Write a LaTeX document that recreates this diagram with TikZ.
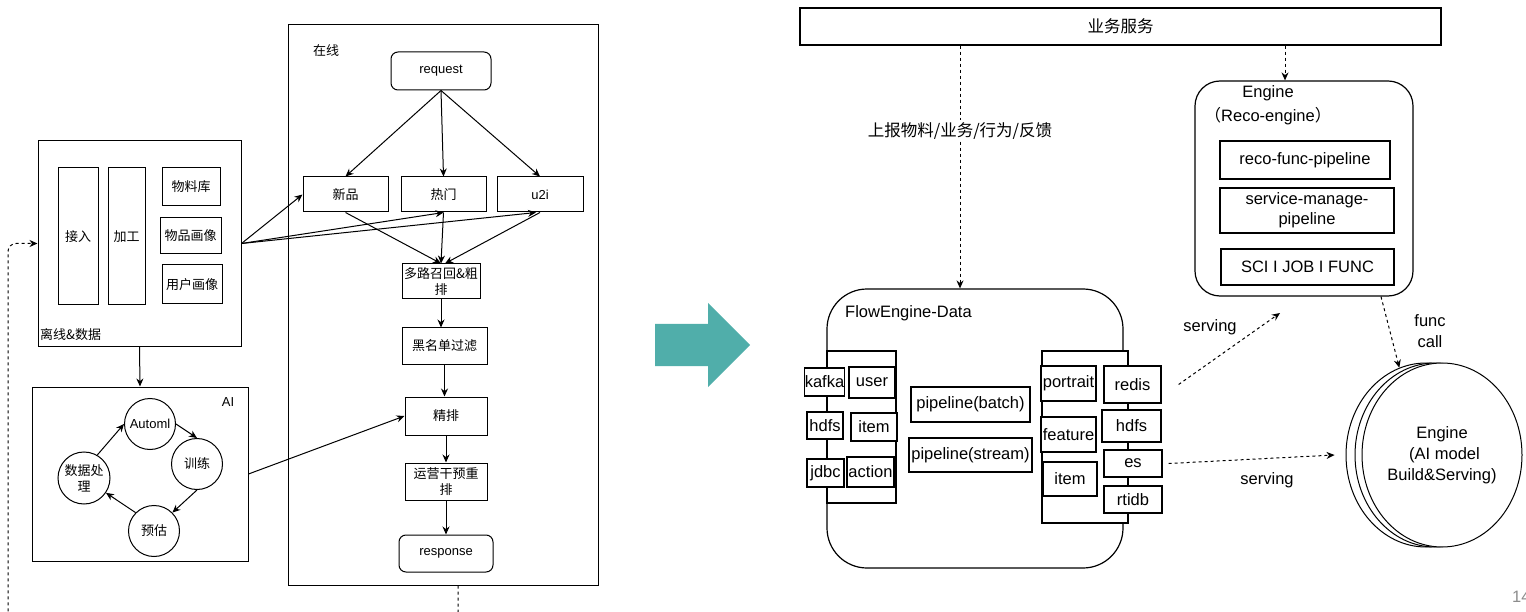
\documentclass[tikz,border=0pt]{standalone}
\usepackage{fontspec}
\setmainfont{Liberation Sans}
\newfontfamily\cjk{Noto Sans CJK SC}
\usetikzlibrary{arrows.meta,shapes.geometric,calc}
\definecolor{teal1}{RGB}{80,174,170}
\begin{document}
\begin{tikzpicture}[x=1pt,y=-1pt,
  base/.style={draw, line width=1pt, fill=white, inner sep=0pt, align=center},
  rbase/.style={base, line width=1.2pt},
  sz/.style 2 args={minimum width=#1pt, minimum height=#2pt},
  fs/.style={font=\fontsize{13}{15}\selectfont},
  fsc/.style={font=\cjk\fontsize{13}{16}\selectfont},
  fl/.style={font=\fontsize{16.5}{21}\selectfont},
  flc/.style={font=\cjk\fontsize{16.5}{21}\selectfont},
  arr/.style={line width=1pt, -{Stealth[length=8pt,width=7pt]}},
  darr/.style={arr, dash pattern=on 3pt off 3pt},
  dline/.style={line width=1pt, dash pattern=on 3pt off 3pt},
  rnd/.style={rounded corners=#1pt}
]
\useasboundingbox (0,0) rectangle (1526,612);

% ===== offline & data =====
\node[base, sz={203}{205}] (off) at (139.5,243.5) {};
\node[fsc, anchor=west, inner sep=0pt] (offl) at (40,335) {离线\&数据};
\node[base, fsc, sz={40}{137}] (jr) at (78,236.5) {接入};
\node[base, fsc, sz={37}{137}] (jg) at (126.5,236.5) {加工};
\node[base, fsc, sz={58}{38}] (wlk) at (191,187) {物料库};
\node[base, fsc, sz={61}{36}] (wphx) at (190.5,236) {物品画像};
\node[base, fsc, sz={60}{39}] (yhhx) at (192,284.5) {用户画像};

% ===== AI =====
\node[base, sz={216}{174}] (ai) at (140,474) {};
\node[fs] (ail) at (228,402) {AI};
\node[base, circle, fs, minimum size=51pt] (automl) at (150,424) {Automl};
\node[base, circle, fsc, minimum size=51pt] (train) at (197,464) {训练};
\node[base, circle, fsc, minimum size=52pt] (data) at (84,478) {数据处\\理};
\node[base, circle, fsc, minimum size=51pt] (pred) at (154,531) {预估};
\draw[arr] (data.60) -- (automl.west);
\draw[arr] (automl.east) -- (train.north);
\draw[arr] (train.south) -- (pred.45);
\draw[arr] (pred.135) -- (data.-34);
\draw[arr] (off.south) -- (ai.north);

% ===== online =====
\node[base, sz={310}{560}] (zx) at (443,305) {};
\node[fsc] (zxl) at (326,51) {在线};
\node[base, fs, rnd=7, sz={100}{38}] (rq) at (441,71) {request};
\node[base, fsc, sz={85}{35}] (xp) at (345.5,194.5) {新品};
\node[base, fsc, sz={85}{35}] (rm) at (443.5,194.5) {热门};
\node[base, fs, sz={86}{35}] (u2i) at (540,194.5) {u2i};
\node[base, fsc, sz={78}{35}] (dl) at (441,281.5) {多路召回\&粗\\排};
\node[base, fsc, sz={85}{36}] (hm) at (444.5,346) {黑名单过滤};
\node[base, fsc, sz={82}{38}] (jp) at (446,416) {精排};
\node[base, fsc, sz={82}{37}] (yy) at (446,481.5) {运营干预重\\排};
\node[base, fs, rnd=7, sz={94}{37}] (resp) at (446,553.5) {response};

\draw[arr] (rq.south) -- (xp.north);
\draw[arr] (rq.south) -- (rm.north);
\draw[arr] (rq.south) -- (u2i.north);
\draw[arr] (xp.south) -- (dl.north);
\draw[arr] (rm.south) -- (dl.north);
\draw[arr] (u2i.south) -- ([xshift=4pt]dl.north);
\draw[arr] (off.east) -- (xp.west);
\draw[arr] (off.east) -- (rm.south);
\draw[arr] (off.east) -- ([xshift=-4pt]u2i.south);
\draw[arr] (dl.south) -- (dl.south |- hm.north);
\draw[arr] (hm.south) -- (hm.south |- jp.north);
\draw[arr] (jp.south) -- (yy.north);
\draw[arr] (yy.south) -- (resp.north);
\draw[arr] (ai.east) -- (jp.west);

\coordinate (rb) at (458,620);
\coordinate (lb) at (8,620);
\draw[dline, -{Stealth[length=8pt,width=7pt]}, rounded corners=8pt]
  ([xshift=15pt]zx.south) -- (rb) -- (lb) |- (off.west);

% ===== big arrow =====
\fill[teal1] (655,324) -- (708,324) -- (708,303) -- (750,345) -- (708,387) -- (708,366) -- (655,366) -- cycle;

% ===== right side =====
\node[rbase, flc, sz={641}{37}] (yw) at (1120.5,26.5) {业务服务};

\node[rbase, rnd=40, sz={296}{279}] (fe) at (975,428.5) {};
\node[fl, anchor=west, inner sep=0pt] (fel) at (845,313) {FlowEngine-Data};
\node[rbase, sz={69}{152}, fill=none] (lfr) at (861.5,427) {};
\node[rbase, fl, sz={37}{28}] (kafka) at (824.5,382) {kafka};
\node[rbase, fl, sz={46}{31}] (user) at (872,382.5) {user};
\node[rbase, fl, sz={36}{27}] (hdfsl) at (825,425.5) {hdfs};
\node[rbase, fl, sz={46}{28}] (iteml) at (874,427) {item};
\node[rbase, fl, sz={37}{28}] (jdbc) at (825.5,473) {jdbc};
\node[rbase, fl, sz={47}{30}] (action) at (870.5,472) {action};
\node[rbase, fl, sz={119}{35}] (pb) at (970.5,404.5) {pipeline(batch)};
\node[rbase, fl, sz={123}{34}] (ps) at (970.5,455) {pipeline(stream)};
\node[rbase, sz={86}{172}] (rfr) at (1085,437) {};
\node[rbase, fl, sz={55}{35}] (portrait) at (1068.5,383.5) {portrait};
\node[rbase, fl, sz={55}{35}] (feature) at (1068.5,434.5) {feature};
\node[rbase, fl, sz={54}{34}] (itemr) at (1070,479) {item};
\node[rbase, fl, sz={57}{37}] (redis) at (1132.5,384.5) {redis};
\node[rbase, fl, sz={59}{32}] (hdfsr) at (1131.5,426) {hdfs};
\node[rbase, fl, sz={58}{27}] (es) at (1133,463.5) {es};
\node[rbase, fl, sz={58}{27}] (rtidb) at (1133,499.5) {rtidb};

\node[rbase, rnd=25, sz={218}{215}] (eng) at (1304,188.5) {};
\node[fl, inner sep=0pt] (engl1) at (1268,93) {Engine};
\node[fl, inner sep=0pt] (engl2) at (1268,116) {{\cjk（}Reco-engine{\cjk）}};
\node[rbase, fl, sz={170}{38}] (rfp) at (1305,160) {reco-func-pipeline};
\node[rbase, fl, sz={174}{45}, font=\fontsize{16.5}{20}\selectfont] (smp) at (1307,210.5) {service-manage-\\pipeline};
\node[rbase, fl, sz={173}{36}] (sci) at (1307.5,267) {SCI I JOB I FUNC};

\node[base, ellipse, sz={160}{184}] (ai0) at (1426,455) {};
\node[base, ellipse, sz={160}{184}] (ai1) at (1435,455) {};
\node[base, ellipse, fl, sz={160}{184}] (ai2) at (1442,455) {Engine\\\hspace*{5pt}(AI model\\Build\&Serving)};

\draw[darr] ([xshift=-160.5pt]yw.south) -- ([xshift=-15pt]fe.north)
  node[pos=0.35, fill=white, flc, inner sep=2pt] (sb) {上报物料/业务/行为/反馈};
\draw[darr] ([xshift=164.5pt]yw.south) -- ([xshift=-19pt]eng.north);

\coordinate (s1) at (1280,313);
\draw[darr] ([xshift=17pt]redis.east) -- (s1);
\node[fl] (sv1) at (1210,327) {serving};
\draw[darr] ([xshift=6pt]es.east) -- ([xshift=-11pt]ai0.west);
\node[fl] (sv2) at (1267,480) {serving};
\draw[darr] ([xshift=77pt]eng.south) -- (ai0.107);
\node[fl, align=center] (fc) at (1430,331) {func\\call};

\node[fl, text=black!45, anchor=west, inner sep=0pt] (pg) at (1512,597) {14};
\end{tikzpicture}
\end{document}
